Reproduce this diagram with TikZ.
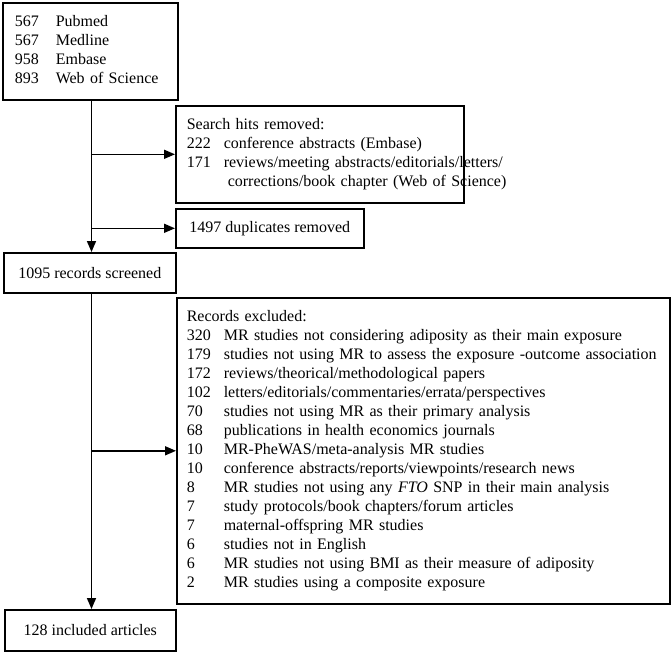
\documentclass[tikz,border=0pt]{standalone}
\usepackage{fontspec}
\setmainfont{Liberation Serif}
\usetikzlibrary{arrows.meta}
\begin{document}
\begin{tikzpicture}[x=1pt,y=-1pt,
  box/.style={draw, line width=1.6pt, inner ysep=0pt, anchor=north west, font=\fontsize{16}{19}\selectfont},
  listbox/.style={box, align=left},
  arr/.style={line width=1.6pt, -{Triangle[length=11pt,width=9pt]}}]
\useasboundingbox[fill=white] (0,0) rectangle (671,653);
\coordinate (spine) at (91.5,0);
\node[listbox, minimum width=175pt, minimum height=97pt, inner xsep=12pt, text width=151pt] (src) at (2,2)
  {\begin{tabular}{@{}p{41pt}@{}l@{}}
   567 & Pubmed\\
   567 & Medline\\
   958 & Embase\\
   893 & Web of Science
   \end{tabular}};
\node[listbox, minimum width=288pt, minimum height=97pt, inner xsep=11pt, text width=266pt] (hits) at (175,105)
  {\begin{tabular}{@{}p{37pt}@{}l@{}}
   \multicolumn{2}{@{}l@{}}{Search hits removed:}\\
   222 & conference abstracts (Embase)\\
   171 & reviews/meeting abstracts/editorials/letters/\\
       & \hspace{4pt}corrections/book chapter (Web of Science)
   \end{tabular}};
\node[box, minimum width=188pt, minimum height=39pt] (dup) at (175,208) {1497 duplicates removed};
\node[box, minimum width=172pt, minimum height=40pt] (scr) at (3,252) {1095 records screened};
\node[listbox, minimum width=493pt, minimum height=306pt, inner xsep=10pt, text width=473pt] (exc) at (176,297)
  {\begin{tabular}{@{}p{37pt}@{}l@{}}
   \multicolumn{2}{@{}l@{}}{Records excluded:}\\
   320 & MR studies not considering adiposity as their main exposure\\
   179 & studies not using MR to assess the exposure -outcome association\\
   172 & reviews/theorical/methodological papers\\
   102 & letters/editorials/commentaries/errata/perspectives\\
   70  & studies not using MR as their primary analysis\\
   68  & publications in health economics journals\\
   10  & MR-PheWAS/meta-analysis MR studies\\
   10  & conference abstracts/reports/viewpoints/research news\\
   8   & MR studies not using any \textit{FTO} SNP in their main analysis\\
   7   & study protocols/book chapters/forum articles\\
   7   & maternal-offspring MR studies\\
   6   & studies not in English\\
   6   & MR studies not using BMI as their measure of adiposity\\
   2   & MR studies using a composite exposure
   \end{tabular}};
\node[box, minimum width=171pt, minimum height=41pt] (inc) at (4,609) {128 included articles};
\draw[arr] (src.south -| spine) -- (scr.north -| spine);
\draw[arr] (hits.west -| spine) -- (hits.west);
\draw[arr] (dup.west -| spine) -- (dup.west);
\draw[arr] (scr.south -| spine) -- (inc.north -| spine);
\draw[arr] (exc.west -| spine) -- (exc.west);
\end{tikzpicture}
\end{document}
